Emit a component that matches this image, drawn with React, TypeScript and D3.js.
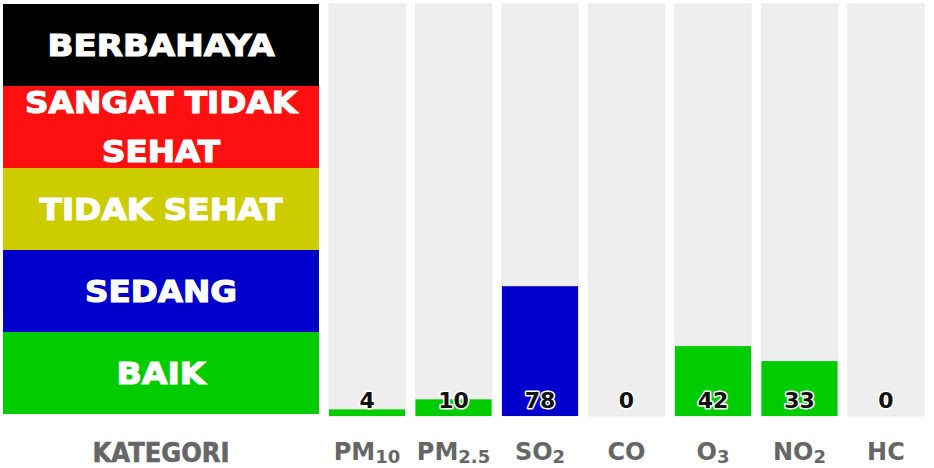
import React from "react";
import * as d3 from "d3";

const pollutants = ["PM10", "PM2.5", "SO2", "CO", "O3", "NO2", "HC"];
const pollutantMain = ["PM", "PM", "SO", "CO", "O", "NO", "HC"];
const pollutantSub = ["10", "2.5", "2", "", "3", "2", ""];
const values = [4, 10, 78, 0, 42, 33, 0];

const categoryLabels = [["BERBAHAYA"], ["SANGAT TIDAK", "SEHAT"], ["TIDAK SEHAT"], ["SEDANG"], ["BAIK"]];
const categoryColors = ["#000000", "#fe1010", "#cccc00", "#0000cc", "#00cc00"];
const categoryThresholds = [50, 100, 200, 300];
const barColors = ["#00cc00", "#0000cc", "#cccc00", "#fe1010", "#000000"];
const yDomainMax = 250;

const W = 934;
const H = 468;
const top = 4;
const bottom = 416;
const font = "'DejaVu Sans', sans-serif";

const labelWidths = [[227], [272, 118], [243], [152], [89]];

export default function App() {
  const x = d3.scaleBand<string>().domain(pollutants).range([329, 924]).paddingInner(0.12).paddingOuter(0);
  const y = d3.scaleLinear().domain([0, yDomainMax]).range([bottom, 0]);
  const legendY = d3.scaleBand<number>().domain(d3.range(categoryLabels.length)).range([top, 414]);
  const colorOf = d3.scaleThreshold<number, string>().domain(categoryThresholds).range(barColors);
  const legendX0 = 3;
  const legendX1 = 319;
  const lcx = (legendX0 + legendX1) / 2;

  return (
    <svg width={W} height={H} style={{ position: "absolute", left: 0, top: 0, background: "#fff" }} fontFamily={font}>
      {categoryLabels.map((lines, i) => {
        const y0 = legendY(i)!;
        const bh = legendY.bandwidth();
        const cy = y0 + bh / 2;
        return (
          <g key={i}>
            <rect x={legendX0} y={y0} width={legendX1 - legendX0} height={bh} fill={categoryColors[i]} />
            {lines.map((ln, j) => {
              const baseline = lines.length === 1 ? cy + 11 : cy - 14 + j * 49;
              return (
                <text
                  key={j}
                  x={lcx}
                  y={baseline}
                  textAnchor="middle"
                  fill="#ffffff"
                  stroke="#ffffff"
                  strokeWidth={1.2}
                  fontWeight="bold"
                  fontSize={30}
                  textLength={labelWidths[i][j]}
                  lengthAdjust="spacingAndGlyphs"
                >
                  {ln}
                </text>
              );
            })}
          </g>
        );
      })}
      <text x={lcx} y={462} textAnchor="middle" fill="#666666" stroke="#666666" strokeWidth={0.6} fontWeight="bold" fontSize={26} textLength={137} lengthAdjust="spacingAndGlyphs">
        KATEGORI
      </text>

      {pollutants.map((p, i) => {
        const bx = x(p)!;
        const bw = x.bandwidth();
        const v = values[i];
        const cx = bx + bw / 2;
        return (
          <g key={p}>
            <rect x={bx} y={top} width={bw} height={bottom - top} fill="#eeeeee" stroke="#e9e9e9" strokeWidth={1} />
            {v > 0 && (
              <rect x={bx} y={y(v)} width={bw} height={bottom - y(v)} fill={colorOf(v)} />
            )}
            <text
              x={cx}
              y={408}
              textAnchor="middle"
              fontSize={22}
              fontWeight="bold"
              fill="#111111"
              stroke="#ffffff"
              strokeWidth={3}
              paintOrder="stroke"
              strokeLinejoin="round"
            >
              {v}
            </text>
            <text x={cx} y={460} textAnchor="middle" fontSize={24} fontWeight="bold" fill="#666666">
              {pollutantMain[i]}
              {pollutantSub[i] && (
                <tspan fontSize={18} fontWeight={600} dy={3}>
                  {pollutantSub[i]}
                </tspan>
              )}
            </text>
          </g>
        );
      })}
    </svg>
  );
}
